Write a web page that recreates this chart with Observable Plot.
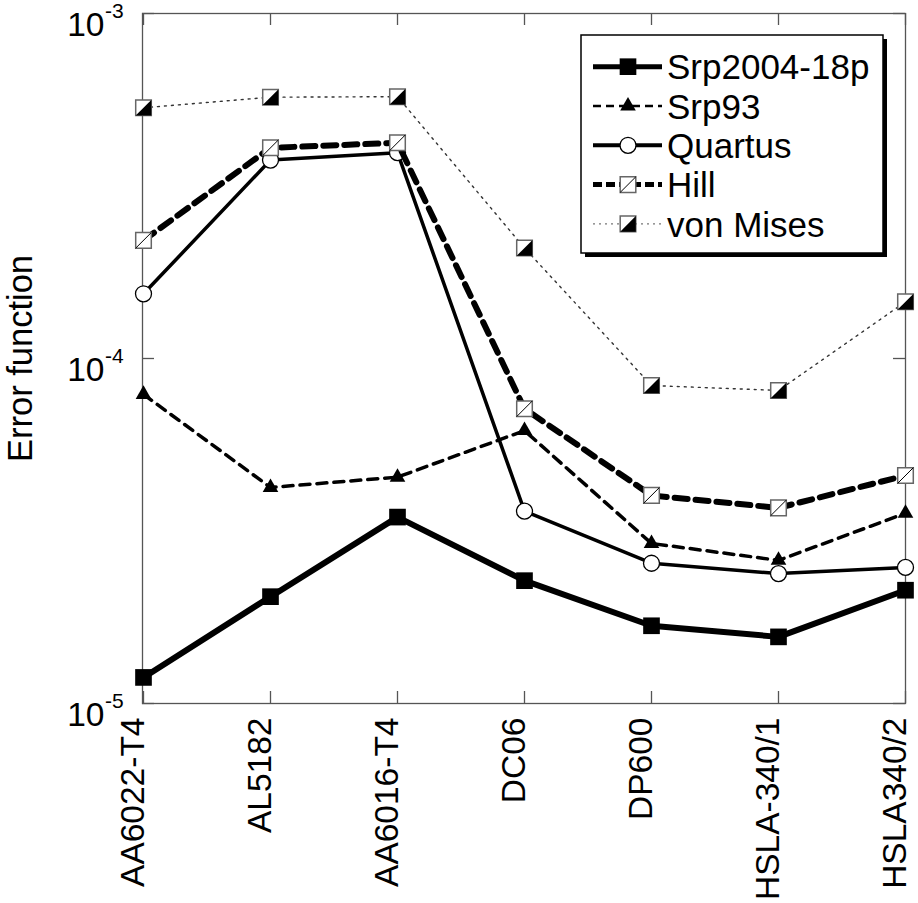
<!DOCTYPE html>
<html><head><meta charset="utf-8">
<script src="https://cdn.jsdelivr.net/npm/d3@7"></script>
<script src="https://cdn.jsdelivr.net/npm/@observablehq/plot@0.6"></script>
<style>html,body{margin:0;padding:0;background:#fff}</style>
</head><body><div id="chart"></div>
<script>
// ---- data ----
const materials = ["AA6022-T4","AL5182","AA6016-T4","DC06","DP600","HSLA-340/1","HSLA340/2"];
const seriesNames = ["Srp2004-18p","Srp93","Quartus","Hill","von Mises"];
const srp2004  = [1.19e-5, 2.04e-5, 3.47e-5, 2.27e-5, 1.68e-5, 1.56e-5, 2.13e-5];
const srp93    = [7.87e-5, 4.23e-5, 4.53e-5, 6.18e-5, 2.91e-5, 2.60e-5, 3.56e-5];
const quartus  = [1.54e-4, 3.76e-4, 3.95e-4, 3.61e-5, 2.55e-5, 2.38e-5, 2.48e-5];
const hill     = [2.20e-4, 4.08e-4, 4.22e-4, 7.15e-5, 4.01e-5, 3.69e-5, 4.58e-5];
const vonMises = [5.33e-4, 5.72e-4, 5.74e-4, 2.09e-4, 8.35e-5, 8.08e-5, 1.46e-4];
const yTickValues = [1e-5, 1e-4, 1e-3];
const yTickExponents = ["-5", "-4", "-3"];
const yLabel = "Error function";

// ---- custom symbols ----
const slash = {draw(ctx, size){ const s = Math.sqrt(size)/2; ctx.moveTo(-s, s); ctx.lineTo(s, -s); }};
const halfFill = {draw(ctx, size){ const s = Math.sqrt(size)/2; ctx.moveTo(s, -s); ctx.lineTo(s, s); ctx.lineTo(-s, s); ctx.closePath(); }};

const styles = [
  {values: srp2004,
   line: {stroke: "#000", strokeWidth: 6},
   legendLine: {stroke: "#000", "stroke-width": 5},
   markers: [{symbol: "square", fill: "#000", stroke: "none", r: 9.4}]},
  {values: srp93,
   line: {stroke: "#000", strokeWidth: 3.5, strokeDasharray: "10,7"},
   legendLine: {stroke: "#000", "stroke-width": 2.5, "stroke-dasharray": "8,5"},
   markers: [{symbol: "triangle", fill: "#000", stroke: "none", r: 5.8}]},
  {values: quartus,
   line: {stroke: "#000", strokeWidth: 3.5},
   legendLine: {stroke: "#000", "stroke-width": 4},
   markers: [{symbol: "circle", fill: "#fff", stroke: "#000", strokeWidth: 1.3, r: 8}]},
  {values: hill,
   line: {stroke: "#000", strokeWidth: 6, strokeDasharray: "13,8"},
   legendLine: {stroke: "#000", "stroke-width": 5, "stroke-dasharray": "9,4"},
   markers: [{symbol: "square", fill: "#fff", stroke: "#666", strokeWidth: 1.5, r: 8.8},
             {symbol: slash, fill: "none", stroke: "#000", strokeWidth: 1, r: 8.8}]},
  {values: vonMises,
   line: {stroke: "#333", strokeWidth: 1.4, strokeDasharray: "2,5"},
   legendLine: {stroke: "#777", "stroke-width": 1.2, "stroke-dasharray": "2,4"},
   markers: [{symbol: "square", fill: "#fff", stroke: "#666", strokeWidth: 1.5, r: 8.8},
             {symbol: halfFill, fill: "#000", stroke: "none", r: 8.8}]}
];

const W = 918, H = 903, mL = 142, mR = 13, mT = 13, mB = 200;
const plotW = W - mL - mR, plotH = H - mT - mB;
const tickLen = 12;
const axisColor = "#555";
const FONT = "'Liberation Sans', Arial, Helvetica, sans-serif";

const marks = [];
marks.push(Plot.frame({stroke: axisColor, strokeWidth: 1.3}));
marks.push(Plot.tickX(materials, {x: d => d, insetTop: plotH - tickLen, stroke: axisColor, strokeWidth: 1.3}));
marks.push(Plot.tickX(materials, {x: d => d, insetBottom: plotH - tickLen, stroke: axisColor, strokeWidth: 1.3}));
marks.push(Plot.tickY(yTickValues, {y: d => d, insetRight: plotW - tickLen, stroke: axisColor, strokeWidth: 1.3}));
marks.push(Plot.tickY(yTickValues, {y: d => d, insetLeft: plotW - tickLen, stroke: axisColor, strokeWidth: 1.3}));

styles.forEach(s => {
  const rows = materials.map((m, i) => ({material: m, value: s.values[i]}));
  marks.push(Plot.line(rows, {x: "material", y: "value", ...s.line}));
  s.markers.forEach(m => {
    marks.push(Plot.dot(rows, {x: "material", y: "value", ...m}));
  });
});

// y tick labels 10^n
marks.push(Plot.text(yTickValues, {y: d => d, text: () => "10", frameAnchor: "left", textAnchor: "end", dx: -38, dy: 12, fontSize: 33.5}));
marks.push(Plot.text(yTickValues, {y: d => d, text: (d, i) => yTickExponents[i], frameAnchor: "left", textAnchor: "start", dx: -37.5, dy: -2, fontSize: 21}));
// x tick labels
marks.push(Plot.text(materials, {x: d => d, text: d => d, frameAnchor: "bottom", rotate: -90, textAnchor: "end", dy: 14, fontSize: 33.5}));
// y label
marks.push(Plot.text([yLabel], {text: d => d, frameAnchor: "left", rotate: -90, textAnchor: "middle", dx: -122, fontSize: 34.5}));

const chart = Plot.plot({
  width: W, height: H,
  marginLeft: mL, marginRight: mR, marginTop: mT, marginBottom: mB,
  x: {type: "point", domain: materials, padding: 0, axis: null},
  y: {type: "log", domain: [1e-5, 1e-3], axis: null},
  style: {fontFamily: FONT, background: "#fff", overflow: "visible", color: "#000"},
  marks
});

// ---- legend (inside the plot, drawn onto the svg) ----
const svg = d3.select(chart);
const lg = svg.append("g").attr("font-family", FONT).attr("text-anchor", "start");
const box = {x: 581, y: 35, w: 302, h: 218, shadow: 4};
lg.append("rect").attr("x", box.x + box.shadow).attr("y", box.y + box.shadow).attr("width", box.w).attr("height", box.h).attr("fill", "#000");
lg.append("rect").attr("x", box.x).attr("y", box.y).attr("width", box.w).attr("height", box.h).attr("fill", "#fff").attr("stroke", "#000").attr("stroke-width", 1.5);
const symbolMap = {square: d3.symbolSquare, triangle: d3.symbolTriangle, circle: d3.symbolCircle};
styles.forEach((s, i) => {
  const y = 66.7 + i * 39.3;
  const ln = lg.append("line").attr("x1", 593).attr("x2", 662).attr("y1", y).attr("y2", y);
  Object.entries(s.legendLine).forEach(([k, v]) => ln.attr(k, v));
  s.markers.forEach(m => {
    const type = typeof m.symbol === "string" ? symbolMap[m.symbol] : m.symbol;
    lg.append("path")
      .attr("transform", `translate(628,${y})`)
      .attr("d", d3.symbol(type, m.r * m.r * Math.PI)())
      .attr("fill", m.fill).attr("stroke", m.stroke).attr("stroke-width", m.strokeWidth || 1);
  });
  lg.append("text").attr("x", 667).attr("y", y).attr("dy", "0.36em")
    .attr("font-size", 35).attr("text-anchor", "start").attr("fill", "#000").text(seriesNames[i]);
});

document.getElementById("chart").appendChild(chart);
</script>
</body></html>
